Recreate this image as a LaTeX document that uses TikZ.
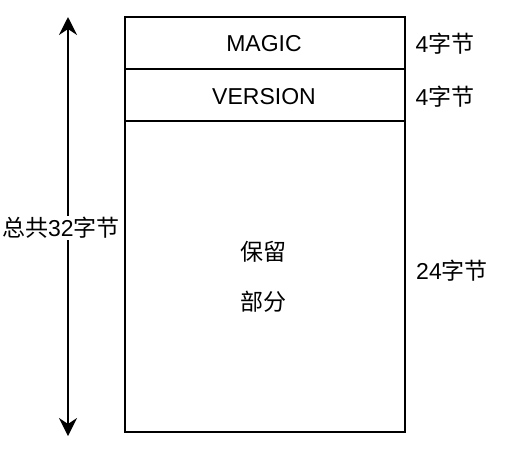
\documentclass[tikz,border=0pt]{standalone}
\usepackage{fontspec}
\setmainfont{Liberation Sans}
\newfontfamily\cjk{Noto Sans CJK SC}
\usetikzlibrary{arrows.meta}
\begin{document}
\begin{tikzpicture}[x=1pt,y=-1pt,
  txt/.style={font=\fontsize{23}{27}\selectfont, inner sep=0pt, anchor=center},
  boxline/.style={line width=2pt}]
\useasboundingbox (0,0) rectangle (506,456);
\draw[boxline] (125,17) rectangle (405,432);
\coordinate (l1a) at (125,69);
\coordinate (l1b) at (405,69);
\coordinate (l2a) at (125,121);
\coordinate (l2b) at (405,121);
\draw[boxline] (l1a) -- (l1b);
\draw[boxline] (l2a) -- (l2b);
\node[txt] (magic) at (264,44) {MAGIC};
\node[txt] (version) at (264,97) {VERSION};
\node[txt] (res1) at (263,252) {\cjk 保留};
\node[txt] (res2) at (263,302) {\cjk 部分};
\node[txt] (s1) at (445,44) {4{\cjk 字节}};
\node[txt] (s2) at (445,97) {4{\cjk 字节}};
\node[txt] (s3) at (452,271) {24{\cjk 字节}};
\coordinate (top) at (68,17);
\coordinate (bot) at (68,436);
\draw[line width=2pt, {Stealth[length=18pt,width=18pt,inset=6pt]}-{Stealth[length=18pt,width=18pt,inset=6pt]}] (top) -- (bot);
\node[txt, fill=white, inner sep=1pt] (total) at (61,228) {{\cjk 总共}32{\cjk 字节}};
\end{tikzpicture}
\end{document}
